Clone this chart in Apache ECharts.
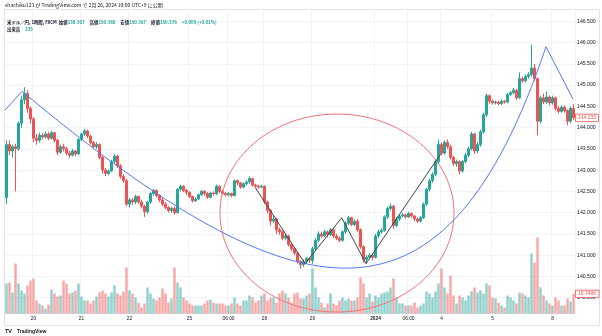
<!DOCTYPE html>
<html><head><meta charset="utf-8">
<script src="https://cdn.jsdelivr.net/npm/echarts@6/dist/echarts.min.js"></script>
<style>html,body{margin:0;padding:0;background:#fff}#c{width:602px;height:336px}</style>
</head><body><div id="c"></div>
<script>
// ---- data (hourly USD/JPY candles, ~1 candle per 3 px) ----
const opens = [
142.35,143.60,143.45,143.55,143.50,144.10,144.65,144.80,144.45,144.20,
143.75,143.70,143.82,143.78,143.85,143.75,143.88,143.70,143.42,143.55,
143.50,143.40,143.35,143.45,143.38,143.72,143.85,143.92,143.80,143.65,
143.55,143.60,143.30,143.00,142.92,142.98,143.20,143.33,143.10,142.85,
142.75,142.20,142.30,142.25,142.38,142.25,142.15,142.02,142.25,142.45,
142.52,142.40,142.30,142.20,142.12,142.05,142.10,142.00,142.55,142.62,
142.52,142.48,142.38,142.28,142.32,142.42,142.50,142.45,142.36,142.46,
142.44,142.62,142.50,142.45,142.42,142.45,142.40,142.75,142.70,142.60,
142.68,142.72,142.80,142.65,142.62,142.60,142.62,142.25,142.05,141.80,
141.85,141.60,141.55,141.40,141.45,141.25,141.15,141.05,140.85,140.78,
140.85,140.92,140.88,141.15,141.35,141.50,141.45,141.55,141.48,141.60,
141.45,141.40,141.35,141.55,141.75,141.88,141.72,141.80,141.60,141.20,
140.90,140.95,141.00,140.95,141.45,141.55,141.58,141.90,142.10,142.15,
141.70,141.85,141.92,141.95,141.90,141.98,141.92,141.85,141.80,141.88,
142.20,142.55,142.75,142.90,143.20,143.60,143.40,143.65,143.55,143.30,
143.15,143.20,142.98,143.20,143.35,143.50,143.85,143.45,143.60,143.90,
144.30,144.75,144.62,144.58,144.60,144.56,144.62,144.60,144.78,144.82,
144.88,144.70,145.15,145.10,145.20,145.25,145.40,145.15,144.15,144.70,
144.60,144.72,144.58,144.70,144.45,144.38,144.48,144.40,144.15,144.45];
const closes = [
143.60,143.45,143.55,143.50,144.10,144.65,144.80,144.45,144.20,143.75,
143.70,143.82,143.78,143.85,143.75,143.88,143.70,143.42,143.55,143.50,
143.40,143.35,143.45,143.38,143.72,143.85,143.92,143.80,143.65,143.55,
143.60,143.30,143.00,142.92,142.98,143.20,143.33,143.10,142.85,142.75,
142.20,142.30,142.25,142.38,142.25,142.15,142.02,142.25,142.45,142.52,
142.40,142.30,142.20,142.12,142.05,142.10,142.00,142.55,142.62,142.52,
142.48,142.38,142.28,142.32,142.42,142.50,142.45,142.36,142.46,142.44,
142.62,142.50,142.45,142.42,142.45,142.40,142.75,142.70,142.60,142.68,
142.72,142.80,142.65,142.62,142.60,142.62,142.25,142.05,141.80,141.85,
141.60,141.55,141.40,141.45,141.25,141.15,141.05,140.85,140.78,140.85,
140.92,140.88,141.15,141.35,141.50,141.45,141.55,141.48,141.60,141.45,
141.40,141.35,141.55,141.75,141.88,141.72,141.80,141.60,141.20,140.90,
140.95,141.00,140.95,141.45,141.55,141.58,141.90,142.10,142.15,141.70,
141.85,141.92,141.95,141.90,141.98,141.92,141.85,141.80,141.88,142.20,
142.55,142.75,142.90,143.20,143.60,143.40,143.65,143.55,143.30,143.15,
143.20,142.98,143.20,143.35,143.50,143.85,143.45,143.60,143.90,144.30,
144.75,144.62,144.58,144.60,144.56,144.62,144.60,144.78,144.82,144.88,
144.70,145.15,145.10,145.20,145.25,145.40,145.15,144.15,144.70,144.60,
144.72,144.58,144.70,144.45,144.38,144.48,144.40,144.15,144.45,144.233];
const lows = [
142.20,143.35,143.30,142.50,143.45,144.00,144.55,144.35,144.10,143.65,
143.60,143.65,143.72,143.74,143.70,143.72,143.65,143.35,143.38,143.44,
143.35,143.28,143.32,143.33,143.36,143.68,143.80,143.75,143.60,143.50,
143.50,143.25,142.92,142.86,142.88,142.95,143.15,143.05,142.80,142.70,
142.15,142.12,142.18,142.20,142.20,142.10,141.90,141.98,142.20,142.40,
142.36,142.25,142.15,142.08,142.00,142.00,141.95,141.98,142.50,142.48,
142.42,142.34,142.24,142.25,142.30,142.40,142.40,142.32,142.34,142.40,
142.42,142.46,142.42,142.38,142.38,142.36,142.38,142.64,142.56,142.57,
142.64,142.68,142.61,142.58,142.56,142.57,142.20,141.98,141.70,141.75,
141.50,141.48,141.35,141.36,141.20,141.10,141.00,140.80,140.68,140.72,
140.80,140.82,140.80,141.10,141.30,141.40,141.42,141.42,141.45,141.40,
141.35,141.30,141.32,141.50,141.70,141.68,141.68,141.55,141.15,140.82,
140.80,140.90,140.88,140.92,141.40,141.50,141.55,141.85,142.05,141.62,
141.66,141.80,141.88,141.86,141.87,141.88,141.80,141.76,141.77,141.85,
142.16,142.50,142.70,142.86,143.15,143.35,143.36,143.50,143.25,143.10,
143.08,142.90,142.94,143.16,143.30,143.46,143.38,143.40,143.55,143.86,
144.25,144.56,144.54,144.54,144.52,144.53,144.56,144.57,144.74,144.78,
144.65,144.68,145.05,145.06,145.15,145.20,145.10,143.82,144.10,144.55,
144.56,144.52,144.54,144.40,144.33,144.35,144.35,144.05,144.10,144.18];
const highs = [
143.70,143.70,143.60,143.62,144.15,144.75,144.95,144.88,144.50,144.25,
143.85,143.88,143.87,143.90,143.90,143.92,143.90,143.73,143.60,143.62,
143.55,143.45,143.50,143.48,143.75,143.88,143.97,143.95,143.83,143.68,
143.66,143.63,143.33,143.05,143.02,143.24,143.38,143.36,143.14,142.90,
142.80,142.35,142.34,142.42,142.40,142.30,142.18,142.28,142.48,142.56,
142.55,142.43,142.35,142.25,142.15,142.14,142.14,142.58,142.66,142.65,
142.56,142.50,142.40,142.36,142.45,142.54,142.53,142.48,142.49,142.50,
142.66,142.64,142.53,142.48,142.48,142.47,142.78,142.78,142.72,142.71,
142.76,142.85,142.82,142.68,142.66,142.66,142.64,142.28,142.08,141.92,
141.88,141.65,141.58,141.50,141.48,141.28,141.18,141.08,140.88,140.90,
140.96,140.95,141.20,141.40,141.56,141.55,141.60,141.58,141.64,141.62,
141.50,141.44,141.58,141.80,141.92,141.90,141.84,141.85,141.63,141.23,
141.00,141.05,141.04,141.50,141.60,141.63,141.94,142.14,142.22,142.18,
141.90,141.96,141.99,141.98,142.02,142.00,141.94,141.88,141.92,142.24,
142.58,142.80,142.95,143.25,143.72,143.65,143.70,143.72,143.60,143.33,
143.25,143.23,143.24,143.40,143.55,143.90,143.88,143.66,143.95,144.35,
144.80,144.78,144.66,144.64,144.63,144.66,144.65,144.82,144.86,144.93,
144.90,145.30,145.20,145.25,145.30,145.95,145.50,145.18,144.75,144.80,
144.85,144.76,144.75,144.73,144.50,144.52,144.52,144.43,144.50,144.55];
// volume in thousands
const volumes = [
24,24.8,16.8,40,24,18.4,16,22.4,26.4,28,
10.4,8,6.4,4,7.2,19.2,16,13.6,14.4,26.4,
24,16,16.8,18.4,24,13.6,10.4,10.4,8,10.4,
13.6,16.8,18.4,16,13.6,16.8,22.4,16,14.4,17.6,
36.8,18.4,16,12.8,8.8,4.8,8,20.8,16,12,
10.4,12.8,20,16,8.8,12,36.8,24.8,20.8,12.8,
10.4,8,6.4,6.4,6.4,6.4,8,10.4,11.2,8.8,
8,8,8,6.4,6.4,8,12.8,8,6.4,10.4,
10.4,14.4,12.8,8.8,10.4,14.4,16,10.4,12.8,12.8,
8.8,16,18.4,16,12.8,8.8,16,16.8,12,12,
14.4,16,36,20.8,12.8,8.8,4.8,8,16,8,
6.4,10.4,12.8,10.4,12,10.4,10.4,12.8,28.8,24,
12.8,16,9.6,14.4,12.8,16,16.8,17.6,20.8,28,
12.8,8,8,6.4,6.4,6.4,8.8,4.8,6.4,8,
17.6,16,12.8,17.6,24,36,20.8,16,30.4,14.4,
8,14.4,12.8,10.4,14.4,17.6,20.8,16.8,18.4,16,
24,22.4,12.8,12,8.8,6.4,4.8,14.4,12.8,10.4,
8,16.8,16,14.4,12.8,48,40.8,60.8,20.8,14.4,
10.4,8,6.4,12.8,10.4,6.4,6.4,12,9.6,15.748];
// time-axis tick labels: [candle index, label]
const timeLabels = [[9,'20'],[25,'21'],[41,'22'],[61,'25'],[74,'06:00'],[86,'28'],[102,'29'],[123,'2024'],[134,'06:00'],[145,'4'],[162,'5'],[182,'8']];
// drawings, as [candle index, price]
const cupLeftLeg = [[-0.5,144.41],[5.17,144.85]];
// cup curve as a cubic Bezier: start, control 1, control 2, end
const cupCurve = [5.17,144.854, 98.5,139.359, 146.5,138.917, 179.83,145.90];
const cupRightLeg = [[179.83,145.90],[188.83,144.67]];
const zigzag = [[83.0,142.58],[99.5,140.80],[111.73,141.88],[119.83,140.80],[144.83,143.39]];
const ellipse = [110.17,141.99,39,2.328]; // centre index, centre price, x-radius (candles), y-radius (price)
const lastPrice = 144.233;
const lastVolume = 15.748;

// ---- build ----
const N = closes.length;
const labelMap = {};
timeLabels.forEach(t => labelMap[t[0]] = t[1]);
const cats = [];
for (let i = 0; i < N; i++) cats.push('c' + i);
const candles = opens.map((o, i) => [o, closes[i], lows[i], highs[i]]);
const UP = '#26a69a', DN = '#ef5350', BLUE = '#5478f7';
const volData = volumes.map((v, i) => ({
  value: v,
  itemStyle: { color: closes[i] >= opens[i] ? 'rgba(38,166,154,0.5)' : 'rgba(239,83,80,0.5)' }
}));
const splitColors = [];
for (let k = 0; k <= 15; k++) splitColors.push(k === 0 || k === 15 ? 'rgba(0,0,0,0)' : '#f0f3fa');
const showIdx = (idx) => labelMap[idx] !== undefined;
const FONT = '"Noto Sans CJK JP", "Liberation Sans", sans-serif';

const chart = echarts.init(document.getElementById('c'), null, { renderer: 'canvas' });
chart.setOption({
  animation: false,
  backgroundColor: '#ffffff',
  title: [
    { left: 5, top: 3, padding: 0, text: 'shachiku123 が TradingView.com で 2月 26, 2024 10:00 UTC+9 に公開',
      textStyle: { fontSize: 5, fontWeight: 'normal', color: '#131722', fontFamily: FONT } },
    { left: 7, top: 13.3, padding: 0,
      text: '{d|米ドル／円, 1時間, FXCM  始値}{g|150.367} {d|高値}{g|150.386} {d|安値}{g|150.367} {d|終値}{g|150.376} {g|+0.009 (+0.01%)}',
      textStyle: { rich: { d: { fontSize: 4.4, color: '#131722', fontFamily: FONT }, g: { fontSize: 4.4, color: UP, fontFamily: FONT } } } },
    { left: 7, top: 20.3, padding: 0, text: '{d|出来高} {g|235}',
      textStyle: { rich: { d: { fontSize: 4.4, color: '#131722', fontFamily: FONT }, g: { fontSize: 4.4, color: UP, fontFamily: FONT } } } },
    { left: 5, top: 322.5, padding: 0, text: '{b|TV} {d|TradingView}',
      textStyle: { rich: { b: { fontSize: 5.5, fontWeight: 'bold', color: '#131722', fontFamily: 'Liberation Sans' }, d: { fontSize: 5, color: '#131722', fontFamily: 'Liberation Sans' } } } }
  ],
  graphic: [
    { type: 'rect', silent: true, z: -10, shape: { x: 4.5, y: 9.5, width: 595, height: 316 },
      style: { fill: 'none', stroke: '#e0e3eb', lineWidth: 1 } }
  ],
  grid: [
    { left: 5, right: 27, top: -3.175, bottom: 17.05 },
    { left: 5, right: 27, top: 9, bottom: 22.5 }
  ],
  xAxis: [
    { type: 'category', gridIndex: 0, data: cats, boundaryGap: true, show: false },
    { type: 'category', gridIndex: 1, data: cats, boundaryGap: true,
      axisLine: { show: true, lineStyle: { color: '#e0e3eb', width: 1 } },
      axisTick: { show: false },
      axisLabel: { interval: (idx) => showIdx(idx), formatter: (v, idx) => {
          const s = labelMap[idx] || ''; return s === '2024' ? '{b|2024}' : s; },
        fontSize: 4.8, color: '#131722', margin: 3, fontFamily: 'Liberation Sans',
        rich: { b: { fontSize: 4.8, fontWeight: 'bold', color: '#131722', fontFamily: 'Liberation Sans' } } },
      splitLine: { show: true, interval: (idx) => showIdx(idx), lineStyle: { color: '#f0f3fa', width: 1 } } },
    { type: 'value', gridIndex: 0, min: -0.5, max: N - 0.5, show: false }
  ],
  yAxis: [
    { type: 'value', gridIndex: 0, min: 139.5, max: 147, interval: 0.5, position: 'right', scale: true,
      axisLine: { show: false }, axisTick: { show: false },
      axisLabel: { fontSize: 5.2, color: '#131722', margin: 2, fontFamily: 'Liberation Sans',
        formatter: v => (v <= 139.5 || v >= 147) ? '' : v.toFixed(3) },
      splitLine: { show: true, lineStyle: { color: splitColors, width: 1 } } },
    { type: 'value', gridIndex: 1, min: 0, max: 243.6, show: false }
  ],
  series: [
    { name: 'vol', type: 'bar', xAxisIndex: 1, yAxisIndex: 1, data: volData, barCategoryGap: '18%', z: 1, silent: true,
      markLine: { silent: true, symbol: 'none', data: [{ yAxis: lastVolume }],
        lineStyle: { color: 'rgba(0,0,0,0)', width: 0 },
        label: { show: true, position: 'end', distance: 1, formatter: '15.748K', color: DN, backgroundColor: '#fff',
          borderColor: DN, borderWidth: 0.8, padding: [1, 2, 0.5, 2], fontSize: 5, fontFamily: 'Liberation Sans' } } },
    { name: 'price', type: 'candlestick', xAxisIndex: 0, yAxisIndex: 0, data: candles, barWidth: 2, z: 3, silent: true,
      itemStyle: { color: UP, color0: DN, borderColor: UP, borderColor0: DN, borderWidth: 1 },
      markLine: { silent: true, symbol: 'none', data: [{ yAxis: lastPrice }],
        lineStyle: { color: 'rgba(0,0,0,0)', width: 0 },
        label: { show: true, position: 'end', distance: 1, formatter: '144.233', color: DN, backgroundColor: '#fff',
          borderColor: DN, borderWidth: 0.8, padding: [1, 2, 0.5, 2], fontSize: 5, fontFamily: 'Liberation Sans' } } },
    { type: 'custom', xAxisIndex: 2, yAxisIndex: 0, data: [ellipse], z: 5, silent: true,
      renderItem: (params, api) => {
        const c = api.coord([api.value(0), api.value(1)]);
        const e = api.coord([api.value(0) + api.value(2), api.value(1) + api.value(3)]);
        return { type: 'ellipse', shape: { cx: c[0], cy: c[1], rx: Math.abs(e[0] - c[0]), ry: Math.abs(c[1] - e[1]) },
          style: { fill: 'none', stroke: '#f2727a', lineWidth: 1 } };
      } },
    { type: 'custom', xAxisIndex: 2, yAxisIndex: 0, data: [cupCurve], z: 6, silent: true,
      renderItem: (params, api) => {
        const p0 = api.coord([api.value(0), api.value(1)]);
        const p1 = api.coord([api.value(2), api.value(3)]);
        const p2 = api.coord([api.value(4), api.value(5)]);
        const p3 = api.coord([api.value(6), api.value(7)]);
        return { type: 'bezierCurve',
          shape: { x1: p0[0], y1: p0[1], cpx1: p1[0], cpy1: p1[1], cpx2: p2[0], cpy2: p2[1], x2: p3[0], y2: p3[1] },
          style: { fill: 'none', stroke: BLUE, lineWidth: 1 } };
      } },
    { type: 'line', xAxisIndex: 2, yAxisIndex: 0, data: cupLeftLeg, symbol: 'none', z: 6, silent: true,
      lineStyle: { color: BLUE, width: 1 } },
    { type: 'line', xAxisIndex: 2, yAxisIndex: 0, data: cupRightLeg, symbol: 'none', z: 6, silent: true,
      lineStyle: { color: BLUE, width: 1 } },
    { type: 'line', xAxisIndex: 2, yAxisIndex: 0, data: zigzag, symbol: 'none', z: 6, silent: true,
      lineStyle: { color: '#444444', width: 1 } }
  ]
});
</script></body></html>
